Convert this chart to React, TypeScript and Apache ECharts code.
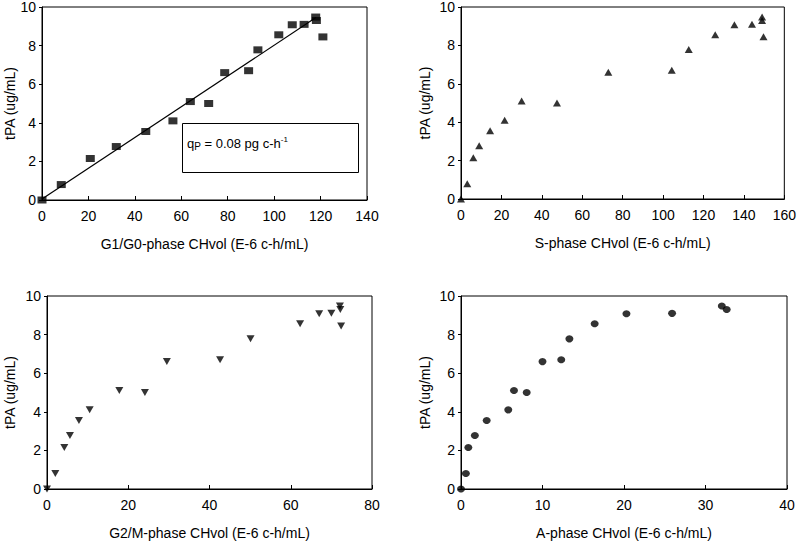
import React, { useEffect, useRef } from "react";
import * as echarts from "echarts";

const tPA = [0, 0.8, 2.15, 2.77, 3.55, 4.1, 5.1, 5.0, 6.6, 6.7, 7.78, 8.56, 9.08, 9.1, 9.48, 9.3, 8.45];
const g1Vol = [0, 8.3, 20.8, 32, 44.7, 56.4, 63.9, 71.8, 78.7, 89, 93, 102, 107.8, 112.9, 117.9, 118.2, 121];
const sVol = [0, 3.1, 6.1, 9.0, 14.4, 21.6, 30.0, 47.5, 72.9, 104.3, 112.7, 125.8, 135.3, 144, 149, 149, 149.7];
const g2mVol = [0, 2.05, 4.26, 5.65, 7.86, 10.5, 17.8, 24.1, 29.5, 42.6, 50.1, 62.3, 67, 70, 72.1, 72.2, 72.4];
const aVol = [0, 0.6, 0.9, 1.7, 3.15, 5.8, 6.5, 8.06, 10.0, 12.3, 13.3, 16.4, 20.3, 25.9, 32.0, 32.6];
const fitX = [0, 118];
const fitY = [0.05, 9.45];

const xTitles = [
  "G1/G0-phase CHvol (E-6 c-h/mL)",
  "S-phase CHvol (E-6 c-h/mL)",
  "G2/M-phase CHvol (E-6 c-h/mL)",
  "A-phase CHvol (E-6 c-h/mL)",
];
const yTitle = "tPA (ug/mL)";
const xMax = [140, 160, 80, 40];
const xInterval = [20, 20, 20, 10];

const FONT = "Liberation Sans, Arial, sans-serif";

function pairs(xs: number[], ys: number[]) {
  return xs.map((x, i) => [x, ys[i]]);
}

export default function App() {
  const ref = useRef<HTMLDivElement>(null);
  useEffect(() => {
    document.body.style.margin = "0";
    const chart = echarts.init(ref.current!, null, { renderer: "svg" });
    const grids = [
      { left: 42, top: 6, width: 325, height: 194 },
      { left: 461, top: 6, width: 326, height: 193 },
      { left: 47, top: 296, width: 325, height: 193 },
      { left: 461, top: 296, width: 326, height: 193 },
    ];
    const yGaps = [19, 29, 30, 29];
    const option: any = {
      animation: false,
      backgroundColor: "#ffffff",
      grid: grids.map((g) => ({
        ...g,
        show: true,
        borderColor: "#000",
        borderWidth: 1,
        backgroundColor: "transparent",
        containLabel: false,
      })),
      xAxis: grids.map((_, i) => ({
        type: "value",
        gridIndex: i,
        min: 0,
        max: xMax[i],
        interval: xInterval[i],
        name: xTitles[i],
        nameLocation: "middle",
        nameGap: 37,
        nameTextStyle: { color: "#000", fontSize: 14, fontFamily: FONT },
        axisLine: { show: true, lineStyle: { color: "#000", width: 1 } },
        axisTick: { show: true, inside: true, length: 4, lineStyle: { color: "#000" } },
        axisLabel: { color: "#000", fontSize: 14, fontFamily: FONT, margin: 9 },
        splitLine: { show: false },
      })),
      yAxis: grids.map((_, i) => ({
        type: "value",
        gridIndex: i,
        min: 0,
        max: 10,
        interval: 2,
        name: yTitle,
        nameLocation: "middle",
        nameGap: yGaps[i],
        nameTextStyle: { color: "#000", fontSize: 14, fontFamily: FONT },
        axisLine: { show: true, lineStyle: { color: "#000", width: 1 } },
        axisTick: { show: true, length: 3, lineStyle: { color: "#000" } },
        axisLabel: { color: "#000", fontSize: 14, fontFamily: FONT, margin: 6 },
        splitLine: { show: false },
      })),
      series: [
        {
          type: "line",
          xAxisIndex: 0,
          yAxisIndex: 0,
          data: pairs(fitX, fitY),
          showSymbol: false,
          symbol: "none",
          lineStyle: { color: "#000", width: 1.2 },
          z: 2,
        },
        {
          type: "scatter",
          xAxisIndex: 0,
          yAxisIndex: 0,
          data: pairs(g1Vol, tPA),
          symbol: "rect",
          symbolSize: [9, 7],
          itemStyle: { color: "#000" },
          z: 3,
        },
        {
          type: "scatter",
          xAxisIndex: 1,
          yAxisIndex: 1,
          data: pairs(sVol, tPA),
          symbol: "triangle",
          symbolSize: [8, 7],
          itemStyle: { color: "#000" },
        },
        {
          type: "scatter",
          xAxisIndex: 2,
          yAxisIndex: 2,
          data: pairs(g2mVol, tPA),
          symbol: "triangle",
          symbolRotate: 180,
          symbolSize: [8, 7],
          itemStyle: { color: "#000" },
        },
        {
          type: "scatter",
          xAxisIndex: 3,
          yAxisIndex: 3,
          data: pairs(aVol, tPA),
          symbol: "circle",
          symbolSize: [8, 7],
          itemStyle: { color: "#000" },
        },
      ],
      graphic: [
        {
          type: "rect",
          left: 182,
          top: 123,
          shape: { width: 176, height: 49 },
          style: { fill: "#fff", stroke: "#000", lineWidth: 1 },
          z: 10,
        },
        {
          type: "text",
          left: 187,
          top: 135,
          z: 11,
          style: {
            text: "{a|q}{sub|P}{a| = 0.08 pg c-h}{sup|-1}",
            fill: "#000",
            rich: {
              a: { fontSize: 13, fontFamily: FONT, fill: "#000", lineHeight: 16, verticalAlign: "middle" },
              sub: { fontSize: 10, fontFamily: FONT, fill: "#000", lineHeight: 16, verticalAlign: "bottom", padding: [4, 0, 0, 0] },
              sup: { fontSize: 8, fontFamily: FONT, fill: "#000", lineHeight: 16, verticalAlign: "top", padding: [0, 0, 6, 0] },
            },
          },
        },
      ],
    };
    chart.setOption(option);
    return () => chart.dispose();
  }, []);
  return <div ref={ref} style={{ width: 799, height: 543 }} />;
}
